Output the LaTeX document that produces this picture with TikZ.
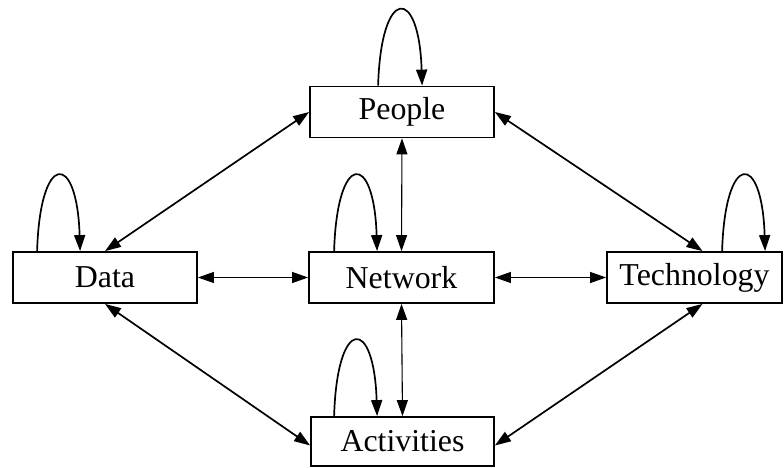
\documentclass[tikz,border=0pt]{standalone}
\usepackage{fontspec}
\setmainfont{Liberation Serif}
\usetikzlibrary{arrows.meta}
\begin{document}
\begin{tikzpicture}[x=1bp,y=-1bp,
  entity/.style={draw,line width=1.8bp,rectangle,inner sep=0pt,
    minimum height=51bp,font=\fontsize{32}{34}\selectfont},
  tip/.style={-{Triangle[length=16bp,width=11bp]}},
  both/.style={{Triangle[length=16bp,width=11bp]}-{Triangle[length=16bp,width=11bp]}},
  diag/.style={both,line width=1.7bp},
  straight/.style={both,line width=1.1bp},
  selfloop/.style={tip,line width=1.7bp}]
\useasboundingbox (0,0) rectangle (784,468);

% entities
\node[entity,minimum width=184bp] (People) at (402,112) {People};
\node[entity,minimum width=184bp] (Data) at (105,277.5) {Data};
\node[entity,minimum width=185bp] (Network) at (401.5,277.5) {Network};
\node[entity,minimum width=175bp] (Technology) at (694.5,277.5) {Technology};
\node[entity,minimum width=183bp,minimum height=49bp] (Activities) at (402.5,441.5) {Activities};

% relations between entities
\draw[diag] (Data.north) -- (People.west);
\draw[diag] (People.east) -- ([xshift=8bp]Technology.north);
\draw[diag] (Data.south) -- ([yshift=-4bp]Activities.west);
\draw[diag] ([yshift=-4bp]Activities.east) -- ([xshift=8bp]Technology.south);
\draw[straight] (Data.east) -- (Network.west);
\draw[straight] (Network.east) -- (Technology.west);
\draw[straight] (People.south) -- (Network.north);
\draw[straight] (Network.south) -- (Activities.north);

% self relations
\draw[selfloop] ([xshift=69bp]People.north west) .. controls +(3,-100) and +(-3,-100) .. ([xshift=113bp]People.north west);
\draw[selfloop] ([xshift=25bp]Data.north west) .. controls +(3,-100) and +(-3,-100) .. ([xshift=68bp]Data.north west);
\draw[selfloop] ([xshift=26bp]Network.north west) .. controls +(3,-100) and +(-3,-100) .. ([xshift=69bp]Network.north west);
\draw[selfloop] ([xshift=116bp]Technology.north west) .. controls +(3,-100) and +(-3,-100) .. ([xshift=159bp]Technology.north west);
\draw[selfloop] ([xshift=24bp]Activities.north west) .. controls +(3,-100) and +(-3,-100) .. ([xshift=67bp]Activities.north west);
\end{tikzpicture}
\end{document}
